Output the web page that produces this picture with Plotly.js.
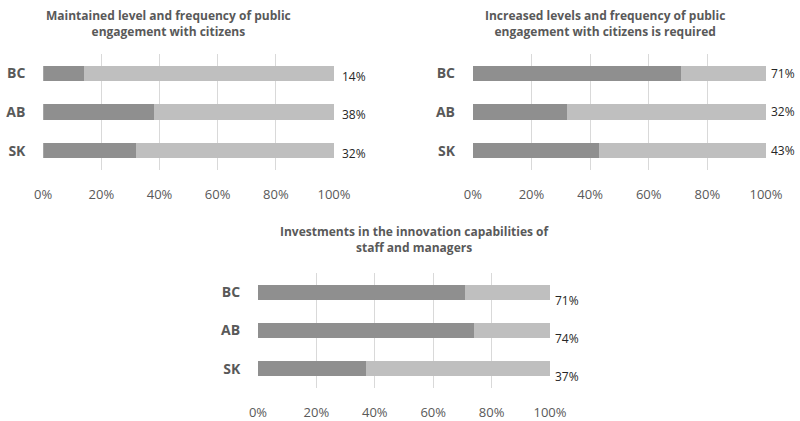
<!DOCTYPE html>
<html><head><meta charset="utf-8">
<script src="https://cdn.plot.ly/plotly-3.0.1.min.js"></script>
<style>html,body{margin:0;padding:0;background:#fff}#chart{width:800px;height:421px}</style>
</head><body><div id="chart"></div>
<script>
const categories = ["SK", "AB", "BC"];
const maintainedValues = [32, 38, 14];
const increasedValues = [43, 32, 71];
const investmentValues = [37, 74, 71];
const titles = [
  "Maintained level and frequency of public<br>engagement with citizens",
  "Increased levels and frequency of public<br>engagement with citizens is required",
  "Investments in the innovation capabilities of<br>staff and managers"
];
const tickVals = [0, 20, 40, 60, 80, 100];
const tickText = ["0%", "20%", "40%", "60%", "80%", "100%"];

const darkColor = "#8f8f8f", lightColor = "#bfbfbf";
const FONT = "Open Sans, sans-serif";
const series = [maintainedValues, increasedValues, investmentValues];
const axisIds = [["x", "y"], ["x2", "y2"], ["x3", "y3"]];
const xDomains = [[0.054, 0.4175], [0.591, 0.9575], [0.3225, 0.6875]];
const yDomains = [[0.596, 0.872], [0.596, 0.872], [0.078, 0.352]];
const titleX = [0.21, 0.756, 0.519];
const titleY = [0.945, 0.945, 0.432];
const labelXShift = [6, 3, 3];
const labelYShift = [-3, 0, -8];

const traces = [];
const annotations = [];
series.forEach((vals, i) => {
  const [xa, ya] = axisIds[i];
  traces.push({type: "bar", orientation: "h", y: categories, x: vals, xaxis: xa, yaxis: ya,
    marker: {color: darkColor}, hoverinfo: "skip", showlegend: false});
  traces.push({type: "bar", orientation: "h", y: categories, x: vals.map(v => 100 - v), xaxis: xa, yaxis: ya,
    marker: {color: lightColor}, hoverinfo: "skip", showlegend: false});
  vals.forEach((v, j) => {
    annotations.push({xref: xa, yref: ya, x: 100, y: categories[j], text: v + "%",
      showarrow: false, xanchor: "left", xshift: labelXShift[i], yshift: labelYShift[i],
      font: {family: FONT, size: 12, color: "#262626"}});
  });
  annotations.push({xref: "paper", yref: "paper", x: titleX[i], y: titleY[i],
    text: "<b>" + titles[i] + "</b>", showarrow: false, xanchor: "center", yanchor: "middle",
    font: {family: FONT, size: 12, color: "#595959"}});
});

const layout = {
  width: 800, height: 421, margin: {l: 0, r: 0, t: 0, b: 0},
  paper_bgcolor: "#fff", plot_bgcolor: "#fff",
  barmode: "stack", bargap: 0.61, showlegend: false,
  annotations: annotations
};
axisIds.forEach(([xa, ya], i) => {
  const xk = xa === "x" ? "xaxis" : "xaxis" + xa.slice(1);
  const yk = ya === "y" ? "yaxis" : "yaxis" + ya.slice(1);
  layout[xk] = {domain: xDomains[i], anchor: ya, range: [0, 100], tickvals: tickVals, ticktext: tickText,
    showgrid: true, gridcolor: "#d9d9d9", gridwidth: 1, zeroline: false, showline: false,
    ticks: "outside", ticklen: 12, tickcolor: "rgba(0,0,0,0)",
    tickfont: {family: FONT, size: 13, color: "#595959"}, fixedrange: true};
  layout[yk] = {domain: yDomains[i], anchor: xa, type: "category", categoryorder: "array", categoryarray: categories,
    range: [-0.5, 2.5], showgrid: false, zeroline: false, showline: false,
    ticks: "outside", ticklen: 14, tickcolor: "rgba(0,0,0,0)",
    tickfont: {family: FONT, size: 14, color: "#595959", weight: "bold"}, fixedrange: true};
});

Plotly.newPlot("chart", traces, layout, {staticPlot: true});
</script></body></html>
